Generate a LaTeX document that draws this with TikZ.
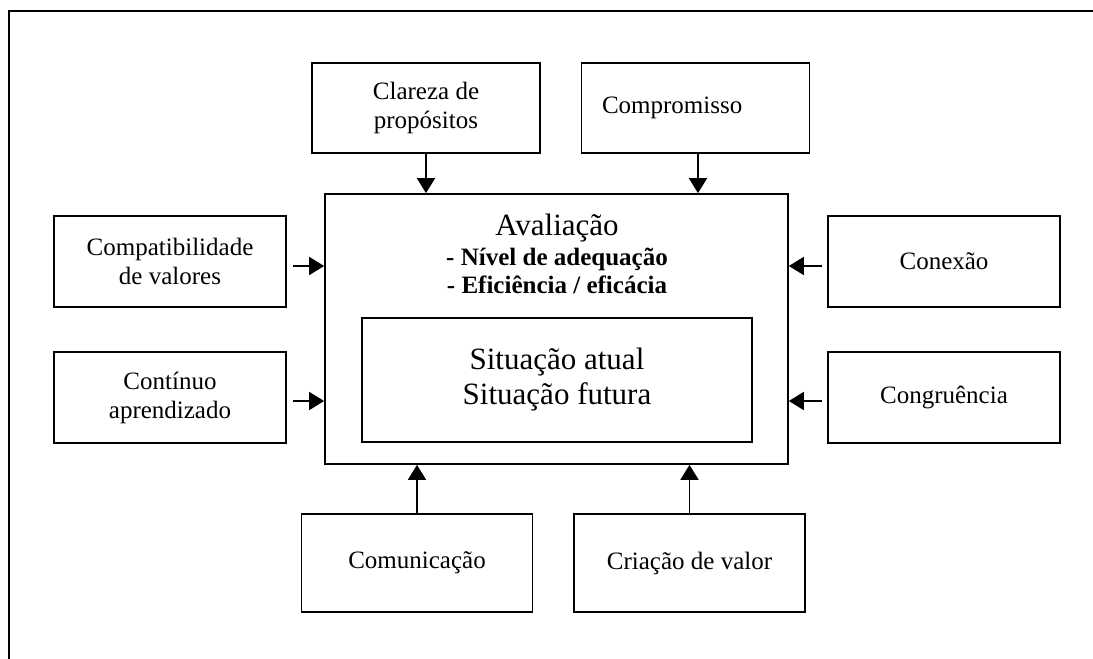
\documentclass[tikz,border=0pt]{standalone}
\usepackage{fontspec}
\setmainfont{Liberation Serif}
\usetikzlibrary{arrows.meta}

\newcommand\boxfont{\fontsize{12.5}{14.5}\selectfont}
\newcommand\bigboxfont{\fontsize{15.5}{17.5}\selectfont}

\tikzset{
	frame/.style={line width=1.2pt},
	box/.style={draw, line width=0.85pt, inner sep=0pt, align=center, font=\boxfont},
	topbox/.style={box, minimum width=114pt, minimum height=45pt},
	sidebox/.style={box, minimum width=116pt, minimum height=45.5pt},
	lowbox/.style={box, minimum width=115.5pt, minimum height=49pt},
	arr/.style={line width=0.85pt, -{Triangle[length=7.5pt, width=9pt]}}
}

\begin{document}
\begin{tikzpicture}[x=0.5pt, y=-0.5pt]
	\useasboundingbox (0,0) rectangle (1093,659);
	\draw[frame] (9,659) -- (9,11) -- (1093,11);
	
	% centre
	\node[box, minimum width=231.5pt, minimum height=135pt] (main) at (556.5,329) {};
	\node[box, minimum width=195pt, minimum height=62pt, font=\bigboxfont] (inner) at (557,380)
		{Situação atual\\Situação futura};
	\node[font=\fontsize{12.5}{14}\selectfont, align=center] (aval) at (557,254)
		{{\bigboxfont Avaliação}\\[1pt]
		\textbf{- Nível de adequação}\\
		\textbf{- Eficiência / eficácia}};
	
	% around
	\node[topbox] (clareza) at (426,108) {Clareza de\\propósitos};
	\node[topbox, align=left, text width=93.5pt] (compromisso) at (695.5,108) {Compromisso};
	\node[sidebox] (compat) at (170,261.5) {Compatibilidade\\de valores};
	\node[sidebox] (continuo) at (170,397.5) {Contínuo\\aprendizado};
	\node[sidebox] (conexao) at (944,261.5) {Conexão};
	\node[sidebox] (congruencia) at (944,397.5) {Congruência};
	\node[lowbox] (comunicacao) at (417,563) {Comunicação};
	\node[lowbox] (criacao) at (689.5,563) {Criação de valor};
	
	\draw[arr] (clareza.south) -- (clareza.south |- main.north);
	\draw[arr] ([xshift=1.25pt]compromisso.south) -- ([xshift=1.25pt]compromisso.south |- main.north);
	\draw[arr] ([xshift=3pt, yshift=-2.25pt]compat.east) -- ([yshift=-2.25pt]compat.east -| main.west);
	\draw[arr] ([xshift=3pt, yshift=-1.75pt]continuo.east) -- ([yshift=-1.75pt]continuo.east -| main.west);
	\draw[arr] ([xshift=-2.5pt, yshift=-2.25pt]conexao.west) -- ([yshift=-2.25pt]conexao.west -| main.east);
	\draw[arr] ([xshift=-2.5pt, yshift=-1.75pt]congruencia.west) -- ([yshift=-1.75pt]congruencia.west -| main.east);
	\draw[arr] (comunicacao.north) -- (comunicacao.north |- main.south);
	\draw[arr] (criacao.north) -- (criacao.north |- main.south);
\end{tikzpicture}
\end{document}
